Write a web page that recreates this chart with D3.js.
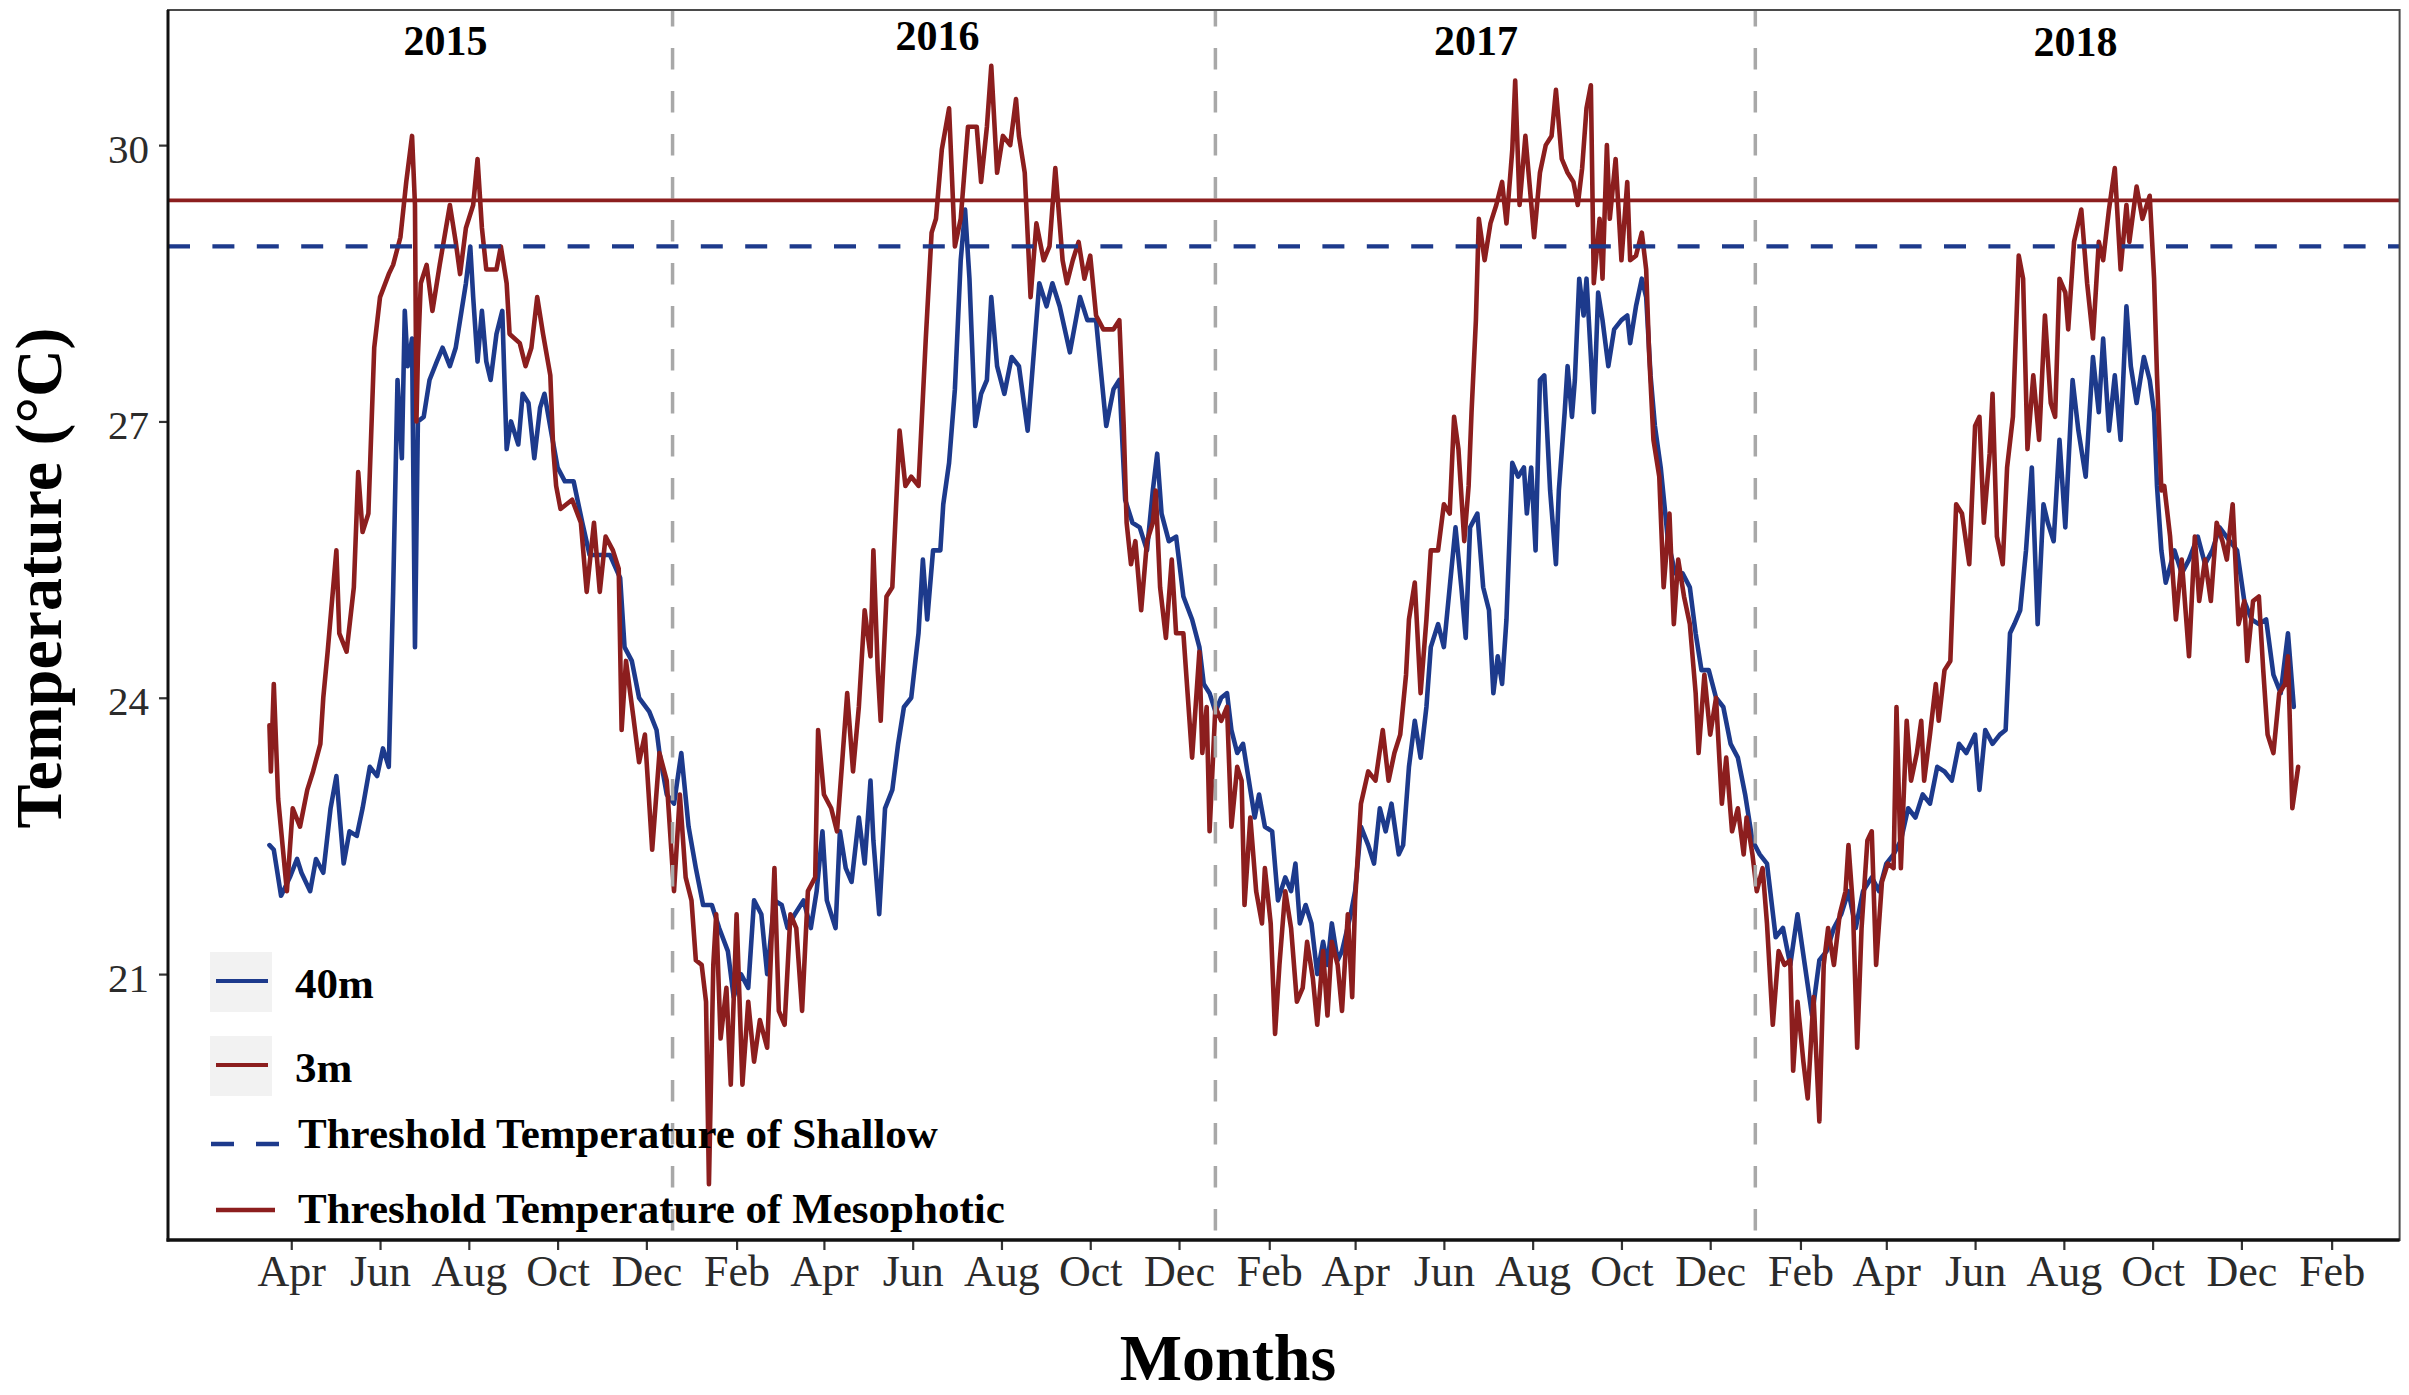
<!DOCTYPE html>
<html>
<head>
<meta charset="utf-8">
<script src="https://cdn.jsdelivr.net/npm/d3@7"></script>
<style>
html, body { margin: 0; padding: 0; background: #ffffff; }
svg { display: block; }
</style>
</head>
<body>
<svg id="chart" width="2409" height="1395"></svg>
<script>
// ---------------- DATA ----------------
// Day offsets from the first observation date, and temperature in °C
const startDate = "2015-03-17";

const series3m = [
[0,23.7],[1,23.2],[3,24.15],[6,22.9],[12,21.9],[16,22.8],[21,22.6],[26,23.0],[30,23.2],[35,23.5],
[37,24.0],[40,24.5],[46,25.6],[48,24.7],[53,24.5],[58,25.2],[61,26.45],[64,25.8],[68,26.0],[72,27.8],
[76,28.35],[82,28.6],[85,28.7],[90,29.0],[94,29.6],[98,30.1],[100,29.35],[101,27.0],[102,27.7],[104,28.5],
[108,28.7],[112,28.2],[117,28.7],[124,29.35],[128,28.95],[131,28.6],[135,29.1],[140,29.35],[143,29.85],[146,29.1],
[149,28.65],[156,28.65],[159,28.9],[163,28.5],[165,27.95],[172,27.85],[176,27.6],[180,27.8],[184,28.35],[188,27.95],
[193,27.5],[195,26.7],[197,26.3],[200,26.05],[208,26.15],[214,25.9],[218,25.15],[223,25.9],[227,25.15],[231,25.75],
[236,25.6],[240,25.4],[242,23.65],[245,24.4],[250,23.8],[254,23.3],[258,23.6],[263,22.35],
[268,23.4],[273,23.1],[278,21.9],[282,22.95],[286,22.05],[290,21.8],[293,21.15],[297,21.1],[300,20.7],[302,18.72],
[305,21.1],[307,21.65],[310,20.3],[314,20.85],[317,19.8],[321,21.65],[325,19.8],[329,20.7],[333,20.05],[337,20.5],
[342,20.2],[347,22.15],[350,20.6],[354,20.45],[358,21.65],[362,21.5],[366,20.6],[370,21.9],[375,22.05],[377,23.65],
[381,22.95],[386,22.8],[390,22.55],[394,23.4],[397,24.05],[401,23.2],[405,23.9],[409,24.95],[413,24.45],[415,25.6],
[418,24.3],[420,23.75],[424,25.1],[428,25.2],[433,26.9],[437,26.3],[441,26.4],[446,26.3],[451,27.9],[455,29.05],
[458,29.2],[462,29.95],[467,30.4],[471,28.9],[475,29.2],[480,30.2],[486,30.2],[489,29.6],[493,30.2],[496,30.86],
[500,29.7],[504,30.1],[509,30.0],[513,30.5],[515,30.1],[519,29.7],[523,28.35],[527,29.15],[532,28.75],[536,28.9],
[540,29.75],[545,28.75],[548,28.5],[552,28.75],[556,28.95],[560,28.55],[564,28.8],[568,28.15],[573,28.0],[580,28.0],
[584,28.1],[587,26.95],[589,25.9],[592,25.45],[595,25.7],[599,24.95],[603,25.7],[607,25.9],[609,26.25],[612,25.2],
[616,24.65],[620,25.5],[623,24.7],[628,24.7],[634,23.35],
[639,24.5],[641,23.4],[644,23.9],[646,22.55],[650,23.9],[654,23.75],[658,23.9],[661,22.6],[665,23.25],[668,23.1],
[670,21.75],[674,22.7],[678,21.9],[682,21.55],[684,22.15],[688,21.55],[691,20.35],[694,21.1],[698,21.9],[702,21.5],
[706,20.7],[710,20.85],[713,21.35],[717,20.95],[720,20.45],[724,21.25],[727,20.55],[730,21.35],[734,21.1],[737,20.6],
[741,21.65],[744,20.75],[746,21.8],[750,22.85],[755,23.2],[760,23.1],[765,23.65],[769,23.1],[773,23.4],[777,23.6],
[781,24.25],[783,24.85],[787,25.25],[791,24.05],[795,24.85],[798,25.6],[803,25.6],[807,26.1],[811,26.0],[814,27.05],
[817,26.7],[821,25.7],[824,26.3],[826,27.1],[829,28.1],[831,29.2],[835,28.75],[839,29.15],[843,29.35],[847,29.6],
[850,29.15],[854,29.95],[856,30.7],[859,29.35],[863,30.1],[866,29.55],[869,29.0],[873,29.7],[877,30.0],[881,30.1],
[884,30.6],[888,29.85],[892,29.7],[896,29.6],[899,29.35],[902,29.75],[905,30.4],[908,30.65],[910,28.5],[914,29.2],
[916,28.55],[919,30.0],[921,29.2],[925,29.85],[929,28.75],[933,29.6],[935,28.75],[939,28.8],[943,29.05],[946,28.65],
[948,27.75],[951,26.8],[955,26.4],[958,25.2],[962,26.0],[965,24.8],[968,25.5],[972,25.1],[976,24.8],[980,24.05],
[982,23.4],[986,24.25],[990,23.6],[994,24.0],[998,22.85],[1001,23.35],[1005,22.55],
[1009,22.8],[1013,22.3],[1015,22.7],[1019,22.3],[1022,21.9],[1026,22.15],[1029,21.55],[1033,20.45],[1037,21.25],[1041,21.1],
[1045,21.15],[1047,19.95],[1050,20.7],[1054,20.05],[1057,19.65],[1061,20.75],[1065,19.4],[1068,21.1],[1071,21.5],[1075,21.1],
[1079,21.65],[1083,21.9],[1085,22.4],[1088,21.75],[1091,20.2],[1094,21.5],[1098,22.45],[1101,22.55],[1104,21.1],[1108,22.0],
[1112,22.2],[1116,22.15],[1118,23.9],[1121,22.15],[1125,23.75],[1128,23.1],[1132,23.4],[1135,23.75],[1137,23.1],[1141,23.6],
[1145,24.15],[1147,23.75],[1151,24.3],[1155,24.4],[1159,26.1],[1163,26.0],[1168,25.45],[1172,26.95],[1175,27.05],[1178,25.9],
[1182,26.65],[1184,27.3],[1187,25.75],[1191,25.45],[1194,26.5],[1198,27.05],[1202,28.8],[1205,28.55],[1208,26.7],[1212,27.5],
[1216,26.8],[1220,28.15],[1224,27.2],[1227,27.05],[1230,28.55],[1234,28.4],[1236,28.0],[1240,28.95],[1245,29.3],[1249,28.5],
[1253,27.9],[1257,28.95],[1260,28.75],[1264,29.3],[1268,29.75],[1272,28.65],[1276,29.35],[1278,28.95],[1283,29.55],[1287,29.2],
[1292,29.45],[1295,28.55],[1297,27.5],[1300,26.25],[1302,26.3],[1306,25.75],[1310,24.85],[1314,25.5],[1319,24.45],[1323,25.75],
[1326,25.05],[1330,25.5],[1334,25.05],[1338,25.9],[1342,25.7],[1345,25.5],[1349,26.1],[1353,24.8],[1357,25.05],[1359,24.4],
[1363,25.05],[1367,25.1],[1370,24.3],[1373,23.6],[1377,23.4],[1381,24.05],[1385,24.15],[1387,24.45],[1390,22.8],[1394,23.25]
];

const series40m = [
[0,22.4],[3,22.35],[8,21.85],[14,22.05],[19,22.25],[22,22.1],[28,21.9],[32,22.25],[37,22.1],[42,22.8],
[46,23.15],[51,22.2],[55,22.55],[60,22.5],[64,22.8],[69,23.25],[74,23.15],[78,23.45],[82,23.25],[85,25.15],
[88,27.45],[91,26.6],[93,28.2],[95,27.6],[98,27.9],[100,24.55],[102,27.0],[106,27.05],[110,27.45],[115,27.65],
[119,27.8],[124,27.6],[128,27.8],[132,28.2],[135,28.5],[138,28.9],[140,28.35],[143,27.65],[146,28.2],[149,27.65],
[152,27.45],[156,27.95],[160,28.2],[163,26.7],[166,27.0],[171,26.75],[174,27.3],[178,27.2],[182,26.6],[186,27.15],
[189,27.3],[194,26.85],[198,26.5],[203,26.35],[209,26.35],[215,25.9],[220,25.55],[227,25.55],[234,25.55],[241,25.3],
[244,24.55],[249,24.4],[254,24.0],[261,23.85],[266,23.65],
[268,23.4],[273,22.95],[278,22.85],[283,23.4],[288,22.6],[293,22.15],[298,21.75],[304,21.75],[309,21.5],[315,21.25],
[319,20.75],[324,21.0],[329,20.85],[333,21.8],[338,21.65],[342,21.0],[347,21.8],[352,21.75],[356,21.5],[361,21.65],
[367,21.8],[372,21.5],[376,21.9],[380,22.55],[383,21.8],[389,21.5],[392,22.55],[396,22.15],[400,22.0],[405,22.7],
[409,22.2],[413,23.1],[415,22.45],[419,21.65],[423,22.8],[428,23.0],[432,23.5],[436,23.9],[441,24.0],[446,24.7],
[449,25.5],[452,24.85],[456,25.6],[461,25.6],[463,26.1],[467,26.55],[471,27.35],[475,28.75],[478,29.3],[481,28.55],
[485,26.95],[489,27.3],[493,27.45],[496,28.35],[500,27.6],[505,27.3],[510,27.7],[515,27.6],[521,26.9],[524,27.5],
[529,28.5],[534,28.25],[538,28.5],[543,28.25],[550,27.75],[557,28.35],[562,28.1],[568,28.1],[571,27.6],[575,26.95],
[580,27.35],[584,27.45],[588,26.15],[593,25.9],[598,25.85],[603,25.6],[607,26.25],[610,26.65],[613,26.0],[618,25.7],
[623,25.75],[628,25.1],[634,24.85],
[639,24.55],[642,24.15],[646,24.05],[650,23.85],[654,24.0],[658,24.05],[661,23.65],[665,23.4],[669,23.5],[673,23.1],
[677,22.7],[680,22.95],[684,22.6],[689,22.55],[693,21.8],[698,22.05],[702,21.9],[705,22.2],[708,21.55],[712,21.75],
[716,21.55],[720,21.0],[724,21.35],[727,21.1],[730,21.55],[734,21.15],[737,21.25],[743,21.65],[746,21.9],[750,22.6],
[755,22.4],[759,22.2],[763,22.8],[767,22.55],[771,22.85],[776,22.3],[779,22.4],[783,23.25],[787,23.75],[791,23.35],
[795,23.9],[798,24.55],[803,24.8],[807,24.55],[811,25.2],[815,25.85],[819,25.2],[822,24.65],[825,25.85],[830,26.0],
[834,25.2],[838,24.95],[841,24.05],[844,24.45],[847,24.15],[850,24.85],[854,26.55],[858,26.4],[862,26.5],[864,26.0],
[867,26.5],[870,25.6],[873,27.45],[876,27.5],[880,26.25],[884,25.45],[886,26.25],[890,27.1],[892,27.6],[895,27.05],
[897,27.45],[900,28.55],[903,28.15],[905,28.55],[908,27.7],[910,27.1],[913,28.4],[916,28.1],[920,27.6],[924,28.0],
[929,28.1],[933,28.15],[935,27.85],[939,28.25],[943,28.55],[946,28.35],[949,27.5],[952,26.95],[956,26.5],[961,25.7],
[966,25.35],[971,25.35],[976,25.2],[980,24.7],[984,24.3],[989,24.3],[994,24.0],[999,23.9],[1004,23.5],
[1009,23.35],[1014,22.95],[1019,22.45],[1024,22.3],[1029,22.2],[1035,21.4],[1040,21.5],[1045,21.1],[1050,21.65],[1055,21.1],
[1060,20.55],[1065,21.15],[1070,21.25],[1075,21.5],[1080,21.65],[1085,21.9],[1090,21.5],[1095,21.9],[1101,22.05],[1106,21.9],
[1111,22.2],[1116,22.3],[1121,22.45],[1126,22.8],[1131,22.7],[1136,22.95],[1141,22.85],[1146,23.25],[1151,23.2],[1156,23.1],
[1161,23.5],[1166,23.4],[1172,23.6],[1175,23.0],[1179,23.65],[1184,23.5],[1189,23.6],[1193,23.65],[1196,24.7],[1199,24.8],
[1203,24.95],[1207,25.6],[1211,26.5],[1215,24.8],[1219,26.1],[1222,25.9],[1226,25.7],[1230,26.8],[1234,25.85],[1239,27.45],
[1243,26.9],[1248,26.4],[1253,27.7],[1257,27.1],[1260,27.9],[1264,26.9],[1268,27.5],[1272,26.8],[1276,28.25],[1279,27.6],
[1283,27.2],[1288,27.7],[1292,27.45],[1295,27.1],[1297,26.3],[1300,25.6],[1303,25.25],[1309,25.6],[1314,25.35],[1319,25.5],
[1325,25.75],[1330,25.45],[1335,25.6],[1340,25.85],[1347,25.7],[1352,25.6],[1357,25.05],[1362,24.85],[1367,24.8],[1372,24.85],
[1377,24.25],[1382,24.05],[1387,24.7],[1391,23.9]
];

const thresholdShallow = 28.9;
const thresholdMesophotic = 29.4;

const yearSplitDates = ["2015-12-19", "2016-12-26", "2018-01-01"];
const yearLabels = ["2015", "2016", "2017", "2018"];
const yearLabelDates = ["2015-07-16", "2016-06-18", "2017-06-23", "2018-08-09"];
const yearLabelTemps = [30.98, 31.03, 30.98, 30.97];

const yTicks = [21, 24, 27, 30];
const xTickFirst = "2015-04-01";
const xTickLast = "2019-02-01";
const legendLabels = ["40m", "3m", "Threshold Temperature of Shallow", "Threshold Temperature of Mesophotic"];

const xTitle = "Months";
const yTitle = "Temperature (°C)";

// ---------------- STYLE / LAYOUT ----------------
const BLUE = "#1d3a8c";
const RED = "#8c1e1e";
const serif = "'Liberation Serif', 'Times New Roman', Times, serif";
const panel = { left: 168, right: 2399.6, top: 10, bottom: 1240 };

const svg = d3.select("#chart");
svg.append("rect").attr("width", 2409).attr("height", 1395).attr("fill", "#ffffff");

const parse = d3.utcParse("%Y-%m-%d");
const t0 = parse(startDate);
const toPts = s => s.map(([d, v]) => ({ date: d3.utcDay.offset(t0, d), value: v }));
const pts3m = toPts(series3m);
const pts40m = toPts(series40m);
const allPts = pts3m.concat(pts40m);

// scales with 5% expansion (ggplot default)
const [xmin, xmax] = d3.extent(allPts, d => d.date);
const xpad = (xmax - xmin) * 0.05;
const x = d3.scaleUtc()
  .domain([new Date(+xmin - xpad), new Date(+xmax + xpad)])
  .range([panel.left, panel.right]);

const [ymin, ymax] = d3.extent(allPts, d => d.value);
const ypad = (ymax - ymin) * 0.05;
const y = d3.scaleLinear()
  .domain([ymin - ypad, ymax + ypad])
  .range([panel.bottom, panel.top]);

// clip
svg.append("defs").append("clipPath").attr("id", "clip")
  .append("rect")
  .attr("x", panel.left).attr("y", panel.top)
  .attr("width", panel.right - panel.left).attr("height", panel.bottom - panel.top);

const plot = svg.append("g").attr("clip-path", "url(#clip)");

const line = d3.line().x(d => x(d.date)).y(d => y(d.value));

plot.append("path").datum(pts40m)
  .attr("d", line).attr("fill", "none")
  .attr("stroke", BLUE).attr("stroke-width", 4.6)
  .attr("stroke-linejoin", "round").attr("stroke-linecap", "round");

plot.append("path").datum(pts3m)
  .attr("d", line).attr("fill", "none")
  .attr("stroke", RED).attr("stroke-width", 4.6)
  .attr("stroke-linejoin", "round").attr("stroke-linecap", "round");

// year separators
plot.selectAll(".vsep").data(yearSplitDates).enter().append("line")
  .attr("x1", d => x(parse(d))).attr("x2", d => x(parse(d)))
  .attr("y1", panel.top).attr("y2", panel.bottom)
  .attr("stroke", "#a8a8a8").attr("stroke-width", 3.5)
  .attr("stroke-dasharray", "21.5,21.5").attr("stroke-dashoffset", 5);

// thresholds
plot.append("line")
  .attr("x1", panel.left).attr("x2", panel.right)
  .attr("y1", y(thresholdShallow)).attr("y2", y(thresholdShallow))
  .attr("stroke", BLUE).attr("stroke-width", 4.2)
  .attr("stroke-dasharray", "22,22.4");

plot.append("line")
  .attr("x1", panel.left).attr("x2", panel.right)
  .attr("y1", y(thresholdMesophotic)).attr("y2", y(thresholdMesophotic))
  .attr("stroke", RED).attr("stroke-width", 3.6);

// year labels
svg.selectAll(".yearLabel").data(yearLabels).enter().append("text")
  .attr("x", (d, i) => x(parse(yearLabelDates[i])))
  .attr("y", (d, i) => y(yearLabelTemps[i]))
  .attr("text-anchor", "middle")
  .attr("font-family", serif).attr("font-weight", "bold").attr("font-size", 42)
  .attr("fill", "#000")
  .text(d => d);

// panel border
svg.append("rect")
  .attr("x", panel.left).attr("y", panel.top)
  .attr("width", panel.right - panel.left).attr("height", panel.bottom - panel.top)
  .attr("fill", "none").attr("stroke", "#4a4a4a").attr("stroke-width", 2);

// axes: ticks on the 1st of every other month (Apr, Jun, Aug, Oct, Dec, Feb)
const tFirst = parse(xTickFirst), tLast = parse(xTickLast);
const xTickVals = d3.utcMonth.range(tFirst, d3.utcDay.offset(tLast, 1))
  .filter(d => (d.getUTCMonth() - tFirst.getUTCMonth() + 12) % 2 === 0);
const xAxis = d3.axisBottom(x).tickValues(xTickVals).tickFormat(d3.utcFormat("%b"))
  .tickSize(10).tickPadding(5);
const gx = svg.append("g").attr("transform", `translate(0,${panel.bottom})`).call(xAxis);
gx.select(".domain").remove();
gx.selectAll(".tick line").attr("stroke", "#333").attr("stroke-width", 2.2);
gx.selectAll(".tick text").attr("font-family", serif).attr("font-size", 44).attr("fill", "#2b2b2b");

const yAxis = d3.axisLeft(y).tickValues(yTicks).tickSize(9).tickPadding(10);
const gy = svg.append("g").attr("transform", `translate(${panel.left},0)`).call(yAxis);
gy.select(".domain").remove();
gy.selectAll(".tick line").attr("stroke", "#333").attr("stroke-width", 2.2);
gy.selectAll(".tick text").attr("font-family", serif).attr("font-size", 41).attr("fill", "#2b2b2b")
  .attr("dy", "0.42em");

// axis lines
svg.append("line").attr("x1", panel.left).attr("x2", panel.left)
  .attr("y1", panel.top).attr("y2", panel.bottom + 1.5)
  .attr("stroke", "#111").attr("stroke-width", 3);
svg.append("line").attr("x1", panel.left - 1.5).attr("x2", panel.right)
  .attr("y1", panel.bottom).attr("y2", panel.bottom)
  .attr("stroke", "#111").attr("stroke-width", 3.4);

// legend
const legendItems = [
  { label: legendLabels[0], color: BLUE, dash: null, width: 4, box: true, keyY: 981, boxY: 952, textY: 998, x1: 216, x2: 268, tx: 295 },
  { label: legendLabels[1], color: RED, dash: null, width: 4, box: true, keyY: 1065, boxY: 1036, textY: 1082, x1: 216, x2: 268, tx: 295 },
  { label: legendLabels[2], color: BLUE, dash: "23,22", width: 4.4, box: false, keyY: 1144, textY: 1148, x1: 211, x2: 279, tx: 298 },
  { label: legendLabels[3], color: RED, dash: null, width: 4.4, box: false, keyY: 1210, textY: 1223, x1: 216, x2: 275, tx: 298 }
];
const lg = svg.append("g");
legendItems.forEach(it => {
  if (it.box) {
    lg.append("rect").attr("x", 210).attr("y", it.boxY).attr("width", 62).attr("height", 60)
      .attr("fill", "#f2f2f2");
  }
  const l = lg.append("line").attr("x1", it.x1).attr("x2", it.x2)
    .attr("y1", it.keyY).attr("y2", it.keyY)
    .attr("stroke", it.color).attr("stroke-width", it.width);
  if (it.dash) l.attr("stroke-dasharray", it.dash);
  lg.append("text").attr("x", it.tx).attr("y", it.textY)
    .attr("font-family", serif).attr("font-weight", "bold").attr("font-size", 43)
    .attr("fill", "#000").text(it.label);
});

// axis titles
svg.append("text").attr("x", 1228).attr("y", 1380)
  .attr("text-anchor", "middle")
  .attr("font-family", serif).attr("font-weight", "bold").attr("font-size", 66)
  .attr("fill", "#000").text(xTitle);

svg.append("text").attr("transform", "translate(61,578) rotate(-90)")
  .attr("text-anchor", "middle")
  .attr("font-family", serif).attr("font-weight", "bold").attr("font-size", 66)
  .attr("fill", "#000").text(yTitle);
</script>
</body>
</html>
